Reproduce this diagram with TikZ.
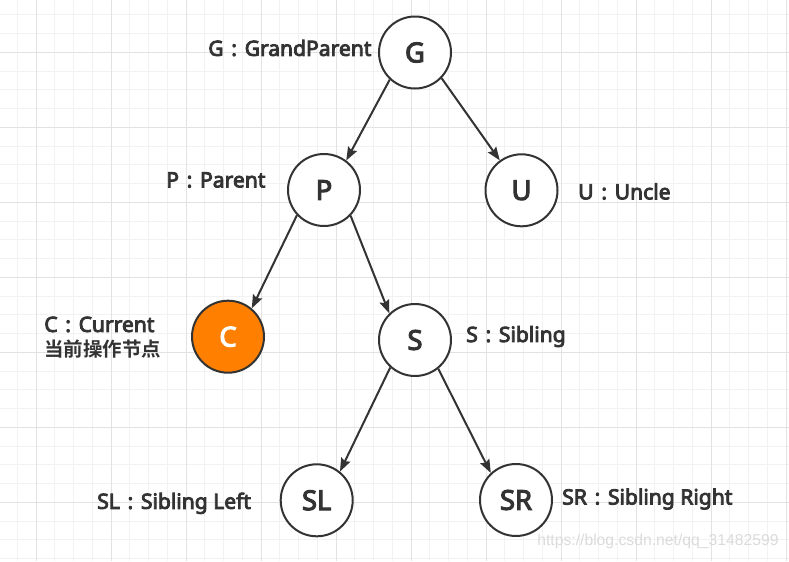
\documentclass[tikz,border=0pt]{standalone}
\usepackage{fontspec}
\setmainfont{Noto Sans}[BoldFont={Noto Sans}, BoldFeatures={FakeBold=4}]
\newfontfamily\cjk{Noto Sans CJK SC}[BoldFont={Noto Sans CJK SC Bold}]
\newfontfamily\wmfont{Liberation Sans}
\usetikzlibrary{arrows.meta}
\definecolor{ink}{HTML}{333333}
\definecolor{gridminor}{HTML}{F2F2F2}
\definecolor{gridmajor}{HTML}{E2E2E2}
\definecolor{curorange}{HTML}{FF8000}
\newcommand{\wcolon}{\makebox[1em]{:}}
\tikzset{
  tnode/.style={circle, draw=ink, line width=1.5pt, fill=white, minimum size=54pt, inner sep=0pt,
    font=\fontsize{20.5}{22}\selectfont\bfseries, text=ink},
  curnode/.style={tnode, fill=curorange, text=white},
  lbl/.style={anchor=west, inner sep=0pt, font=\fontsize{15.8}{18.5}\selectfont\bfseries, text=ink, align=left},
  edge/.style={draw=ink, line width=1.5pt, -{Stealth[length=10pt,width=7.5pt,inset=1.5pt]}}
}
\begin{document}
\begin{tikzpicture}[x=0.75pt,y=-0.75pt]
\useasboundingbox (0,0) rectangle (789,561);
\fill[white] (0,0) rectangle (789,561);
% grid
\foreach \k in {0,...,41} {
  \pgfmathsetmacro{\gx}{17.25+18.75*\k}
  \draw[gridminor, line width=0.75pt] (\gx,0) -- (\gx,561);
}
\foreach \k in {0,...,29} {
  \pgfmathsetmacro{\gy}{14.8+18.75*\k}
  \draw[gridminor, line width=0.75pt] (0,\gy) -- (789,\gy);
}
\foreach \k in {0,...,10} {
  \pgfmathsetmacro{\gx}{36+75*\k}
  \draw[gridmajor, line width=0.75pt] (\gx,0) -- (\gx,561);
}
\foreach \k in {0,...,7} {
  \pgfmathsetmacro{\gy}{52.3+75*\k}
  \draw[gridmajor, line width=0.75pt] (0,\gy) -- (789,\gy);
}
% nodes
\node[tnode] (G) at (415,52.5) {G};
\node[tnode] (P) at (324,190) {P};
\node[tnode] (U) at (521.5,190.3) {U};
\node[curnode] (C) at (228,336.7) {C};
\node[tnode] (S) at (415,340) {S};
\node[tnode] (SL) at (316.7,500.3) {SL};
\node[tnode] (SR) at (516,500) {SR};
% edges
\draw[edge] (G.227) -- (P.53);
\draw[edge] (G.-44) -- (U.126);
\draw[edge] (P.223) -- (C.50);
\draw[edge] (P.-44) -- (S.134);
\draw[edge] (S.228) -- (SL.51);
\draw[edge] (S.-51) -- (SR.133);
% labels
\node[lbl] (lG) at (208,48) {G\wcolon GrandParent};
\node[lbl] (lP) at (166,180) {P\wcolon Parent};
\node[lbl] (lU) at (578,191.5) {U\wcolon Uncle};
\node[lbl] (lS) at (466,336.5) {S\wcolon Sibling};
\node[lbl] (lC) at (44,337.5) {C\wcolon Current\\{\cjk\bfseries\fontsize{14.6}{18.5}\selectfont 当前操作节点}};
\node[lbl] (lSL) at (97,503.3) {SL\wcolon Sibling Left};
\node[lbl] (lSR) at (562,499) {SR\wcolon Sibling Right};
% watermark
\node[anchor=west, inner sep=0pt, text=black!14, font=\wmfont\fontsize{11.8}{13}\selectfont] (wm) at (537,541.7) {https://blog.csdn.net/qq\_31482599};
\end{tikzpicture}
\end{document}
